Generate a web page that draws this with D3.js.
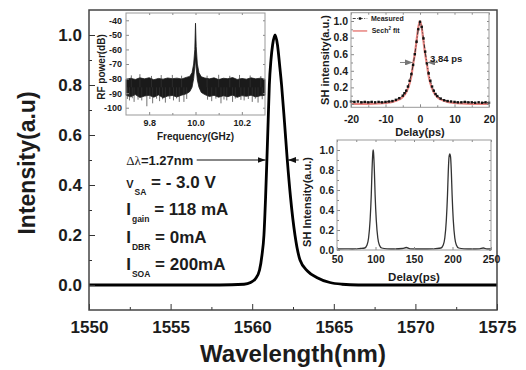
<!DOCTYPE html>
<html>
<head>
<meta charset="utf-8">
<script src="https://cdn.jsdelivr.net/npm/d3@7"></script>
<style>
  body { margin: 0; background: #fff; }
  svg text { font-family: Arial, "Liberation Sans", sans-serif; font-weight: bold; fill: #1c1c1c; }
</style>
</head>
<body>
<svg id="chart" width="526" height="370"></svg>
<script>
// main optical spectrum
const wavelength = [1550, 1558, 1559.5, 1559.9, 1560.2, 1560.45, 1560.6, 1560.72, 1560.82, 1560.9, 1560.98,
  1561.05, 1561.15, 1561.25, 1561.4, 1561.55, 1561.68, 1561.8, 1561.98, 1562.15, 1562.35, 1562.62,
  1562.93, 1563.4, 1563.95, 1564.76, 1565.5, 1566.5, 1575];
const intensity = [0, 0, 0.003, 0.01, 0.025, 0.06, 0.12, 0.2, 0.35, 0.5, 0.66,
  0.8, 0.9, 0.96, 1.0, 0.96, 0.88, 0.8, 0.65, 0.5, 0.35, 0.2,
  0.1, 0.055, 0.03, 0.01, 0.003, 0, 0];
const wlTicks = [1550, 1555, 1560, 1565, 1570, 1575];
const wlMinor = [1552.5, 1557.5, 1562.5, 1567.5, 1572.5];
const intTicks = [0, 0.2, 0.4, 0.6, 0.8, 1.0];
const intMinor = [0.1, 0.3, 0.5, 0.7, 0.9];

// RF spectrum inset (band envelope + spikes)
const rfFreq = [9.70, 9.72, 9.74, 9.76, 9.78, 9.80, 9.82, 9.84, 9.86, 9.88, 9.90, 9.92, 9.94, 9.96,
  9.975, 9.985, 9.992, 9.997, 10.0, 10.003, 10.008, 10.015, 10.025, 10.04, 10.06, 10.08, 10.10,
  10.12, 10.14, 10.16, 10.18, 10.20, 10.22, 10.24, 10.26, 10.28, 10.30];
const rfUpper = [-80.5, -79.8, -80.6, -79.5, -80.2, -79.4, -80.8, -79.9, -80.4, -79.6, -80.1, -79.7, -80.3, -79.2,
  -78.5, -76, -70, -60, -42, -58, -70, -76, -78.8, -79.6, -80.2, -79.5, -80.7,
  -79.8, -80.1, -79.3, -80.6, -79.9, -80.4, -79.5, -80.2, -79.7, -80.5];
const rfLower = [-91.5, -92.5, -91, -93, -92, -91.5, -92.8, -91.2, -93.2, -92, -91.6, -92.6, -91.4, -90.5,
  -89, -86, -80, -72, -66, -73, -81, -86, -89.5, -91, -92.3, -91.5, -92.8,
  -91.8, -92.4, -91.3, -92.9, -91.7, -92.2, -91.4, -92.6, -91.8, -91.5];
const rfSpikeFreq = [9.706, 9.715, 9.727, 9.735, 9.752, 9.768, 9.79, 9.803, 9.815, 9.832, 9.845, 9.858, 9.87, 9.889,
  9.905, 9.918, 9.93, 9.95, 9.962, 10.052, 10.07, 10.088, 10.11, 10.123, 10.135, 10.16, 10.172, 10.196,
  10.21, 10.228, 10.245, 10.258, 10.27, 10.288,
  9.723, 9.76, 9.81, 9.852, 9.9, 9.94, 10.05, 10.1, 10.148, 10.19, 10.236, 10.282];
const rfSpikeDb = [-94, -95, -93.5, -96, -94.5, -95, -99, -94, -97, -93.8, -95.5, -94.2, -96.5, -94,
  -95, -93.6, -96, -96, -94, -94.5, -95.5, -93.8, -97, -94.4, -95, -96, -93.7, -94.6,
  -95, -94, -96, -93.8, -96.5, -94.2,
  -77.8, -77, -78.2, -77.6, -77.5, -78, -78, -77.4, -78.1, -77.5, -77.9, -78.3];
const rfFreqTicks = [9.8, 10.0, 10.2];
const rfFreqMinor = [9.9, 10.1];
const rfDbTicks = [-40, -50, -60, -70, -80, -90, -100];

// autocorrelation inset
const acDelay = [-20, -19, -18, -17, -16, -15, -14, -13, -12, -11, -10, -9, -8, -7, -6, -5, -4.5, -4, -3.5, -3,
  -2.5, -2, -1.5, -1, -0.5, 0, 0.5, 1, 1.5, 2, 2.5, 3, 3.5, 4, 4.5, 5, 6, 7, 8, 9, 10,
  11, 12, 13, 14, 15, 16, 17, 18, 19, 20];
const acMeasured = [0.03, 0.025, 0.03, 0.02, 0.025, 0.02, 0.025, 0.02, 0.025, 0.02, 0.025, 0.03, 0.035, 0.05, 0.07, 0.1, 0.13, 0.16, 0.21, 0.28,
  0.36, 0.47, 0.6, 0.75, 0.9, 0.99, 0.93, 0.79, 0.63, 0.49, 0.37, 0.28, 0.21, 0.16, 0.12, 0.095, 0.065, 0.045, 0.035, 0.03, 0.025,
  0.02, 0.02, 0.025, 0.02, 0.02, 0.015, 0.02, 0.015, 0.02, 0.015];
const fitDelay = [-20, -15, -12, -10, -8, -6, -5, -4, -3, -2.5, -2, -1.5, -1, -0.5, 0, 0.5, 1, 1.5, 2, 2.5, 3, 4, 5, 6, 8, 10, 12, 15, 20];
const acFit = [0, 0.002, 0.006, 0.012, 0.025, 0.055, 0.085, 0.14, 0.25, 0.34, 0.48, 0.6, 0.76, 0.92, 1.0, 0.92, 0.76, 0.6, 0.48, 0.34, 0.25, 0.14, 0.085, 0.055, 0.025, 0.012, 0.006, 0.002, 0];
const acDelayTicks = [-20, -10, 0, 10, 20];
const acDelayMinor = [-15, -5, 5, 15];
const shTicks = [0, 0.2, 0.4, 0.6, 0.8, 1.0];
const shMinor = [0.1, 0.3, 0.5, 0.7, 0.9];

// pulse train inset
const trainDelay = [50, 60, 70, 80, 86, 89, 91, 93, 94.5, 95.5, 96.5, 97, 97.5, 98.5, 99.5, 101, 103, 105, 108,
  115, 125, 135, 140, 145, 160, 175, 185, 188, 190, 192, 193.5, 194.5, 195.5, 196.5, 197.5, 198.5, 199.5,
  201, 203, 205, 208, 215, 225, 235, 240, 245, 250];
const trainSH = [0.01, 0.012, 0.01, 0.015, 0.02, 0.05, 0.12, 0.3, 0.55, 0.8, 0.97, 1.0, 0.97, 0.8, 0.55, 0.3, 0.12, 0.05, 0.02,
  0.012, 0.01, 0.015, 0.025, 0.012, 0.01, 0.012, 0.02, 0.05, 0.12, 0.3, 0.55, 0.78, 0.93, 0.96, 0.93, 0.78, 0.55,
  0.3, 0.12, 0.05, 0.02, 0.012, 0.01, 0.012, 0.02, 0.01, 0.01];
const trainTicks = [50, 100, 150, 200, 250];
const trainMinor = [75, 125, 175, 225];

const svg = d3.select('#chart');

const defs = svg.append('defs');
function arrowMarker(id, color) {
  defs.append('marker')
    .attr('id', id)
    .attr('markerUnits', 'userSpaceOnUse')
    .attr('viewBox', '0 0 8 6')
    .attr('refX', 8).attr('refY', 3)
    .attr('markerWidth', 8).attr('markerHeight', 6)
    .attr('orient', 'auto')
    .append('path').attr('d', 'M0,0L8,3L0,6Z').attr('fill', color);
}
arrowMarker('arrow', '#111');
arrowMarker('arrowGrey', '#777');

// draws inward ticks (optionally mirrored) and the frame of a panel
function drawTicks(g, xs, ys, o) {
  const [x0, x1] = xs.range();
  const [y0, y1] = ys.range();
  const fs = o.fontSize;

  g.append('g').attr('transform', `translate(0,${y0})`)
    .call(d3.axisBottom(xs).tickValues(o.xt).tickFormat(o.xf).tickSize(-o.tick).tickPadding(o.xpad));
  g.append('g').attr('transform', `translate(${x0},0)`)
    .call(d3.axisLeft(ys).tickValues(o.yt).tickFormat(o.yf).tickSize(-o.tick).tickPadding(o.ypad));
  g.append('g').attr('transform', `translate(0,${y0})`)
    .call(d3.axisBottom(xs).tickValues(o.xm).tickFormat('').tickSize(-o.minor));
  g.append('g').attr('transform', `translate(${x0},0)`)
    .call(d3.axisLeft(ys).tickValues(o.ym).tickFormat('').tickSize(-o.minor));
  if (o.mirror) {
    g.append('g').attr('transform', `translate(0,${y1})`)
      .call(d3.axisTop(xs).tickValues(o.xt.concat(o.xm)).tickFormat('').tickSize(-o.minor));
    g.append('g').attr('transform', `translate(${x1},0)`)
      .call(d3.axisRight(ys).tickValues(o.yt.concat(o.ym)).tickFormat('').tickSize(-o.minor));
  }
  g.selectAll('.domain').remove();
  g.selectAll('.tick line').attr('stroke', o.tickColor).attr('stroke-width', 1);
  g.selectAll('.tick text').attr('font-size', fs).attr('fill', '#1c1c1c')
    .attr('font-family', 'Arial, "Liberation Sans", sans-serif').attr('font-weight', 'bold');
  g.append('rect')
    .attr('x', x0).attr('y', y1)
    .attr('width', x1 - x0).attr('height', y0 - y1)
    .attr('fill', 'none').attr('stroke', o.frameColor).attr('stroke-width', o.frameWidth);
}

// ---------- main plot ----------
const x = d3.scaleLinear().domain([1550, 1575]).range([89, 497]);
const y = d3.scaleLinear().domain([-0.1, 1.1]).range([310, 10]);
const main = svg.append('g');

const spectrum = wavelength.map((w, i) => [w, intensity[i]]);
main.append('path')
  .datum(spectrum)
  .attr('fill', 'none')
  .attr('stroke', '#000')
  .attr('stroke-width', 2.8)
  .attr('stroke-linejoin', 'round')
  .attr('d', d3.line().x(d => x(d[0])).y(d => y(d[1])).curve(d3.curveMonotoneX));

drawTicks(main, x, y, {
  xt: wlTicks, xm: wlMinor, yt: intTicks, ym: intMinor,
  xf: d => d.toFixed(0), yf: d => d.toFixed(1),
  tick: 6, minor: 3, xpad: 11, ypad: 7, fontSize: 17,
  tickColor: '#333', frameColor: '#444', frameWidth: 1.5, mirror: false
});

main.append('text')
  .attr('x', (x.range()[0] + x.range()[1]) / 2)
  .attr('y', 362)
  .attr('text-anchor', 'middle')
  .attr('font-size', 24)
  .text('Wavelength(nm)');
main.append('text')
  .attr('transform', `translate(35,${y(0.5) + 3}) rotate(-90)`)
  .attr('text-anchor', 'middle')
  .attr('font-size', 23)
  .text('Intensity(a.u)');

// FWHM arrows and operating conditions
main.append('line')
  .attr('x1', x(1556.6)).attr('x2', x(1560.82))
  .attr('y1', y(0.5)).attr('y2', y(0.5))
  .attr('stroke', '#111').attr('stroke-width', 1)
  .attr('marker-end', 'url(#arrow)');
main.append('line')
  .attr('x1', x(1562.85)).attr('x2', x(1562.2))
  .attr('y1', y(0.5)).attr('y2', y(0.5))
  .attr('stroke', '#111').attr('stroke-width', 1)
  .attr('marker-end', 'url(#arrow)');

const tx = x(1552.28);
const dl = main.append('text').attr('x', tx).attr('y', y(0.5) + 5).attr('font-size', 13);
dl.append('tspan').attr('font-family', '"Liberation Serif", "DejaVu Serif", serif').attr('font-weight', 'normal').text('Δλ');
dl.append('tspan').text('=1.27nm');

const conditions = [
  { main: 'V', sub: 'SA', rest: ' = - 3.0 V', base: 187.5, mainSize: 11 },
  { main: 'I', sub: 'gain', rest: ' = 118 mA', base: 215, mainSize: 17 },
  { main: 'I', sub: 'DBR', rest: ' = 0mA', base: 242.5, mainSize: 17 },
  { main: 'I', sub: 'SOA', rest: ' = 200mA', base: 270, mainSize: 17 }
];
conditions.forEach(c => {
  const t = main.append('text').attr('x', tx).attr('y', c.base).attr('font-size', 17);
  t.append('tspan').attr('font-size', c.mainSize).text(c.main);
  t.append('tspan').attr('font-size', 8.5).attr('dx', 1).attr('dy', 7).text(c.sub);
  t.append('tspan').attr('dy', -7).text(c.rest);
});

// ---------- RF spectrum inset ----------
const rfx = d3.scaleLinear().domain([9.7, 10.3]).range([126, 265]);
const rfy = d3.scaleLinear().domain([-105, -35]).range([115, 13]);
const rf = svg.append('g');
rf.append('rect').attr('x', 126).attr('y', 13).attr('width', 139).attr('height', 102).attr('fill', '#fff');

const rfBand = rfFreq.map((f, i) => ({ f, hi: rfUpper[i], lo: rfLower[i] }));
rf.append('path')
  .datum(rfBand)
  .attr('fill', '#1a1a1a')
  .attr('stroke', '#1a1a1a')
  .attr('stroke-width', 0.8)
  .attr('d', d3.area().x(d => rfx(d.f)).y0(d => rfy(d.lo)).y1(d => rfy(d.hi)));
rf.selectAll('line.spike')
  .data(rfSpikeFreq.map((f, i) => [f, rfSpikeDb[i]]))
  .join('line')
  .attr('class', 'spike')
  .attr('x1', d => rfx(d[0])).attr('x2', d => rfx(d[0]))
  .attr('y1', rfy(-86)).attr('y2', d => rfy(d[1]))
  .attr('stroke', '#333').attr('stroke-width', 0.7);

drawTicks(rf, rfx, rfy, {
  xt: rfFreqTicks, xm: rfFreqMinor, yt: rfDbTicks, ym: [],
  xf: d => d.toFixed(1), yf: d => d.toFixed(0),
  tick: 3, minor: 2, xpad: 5, ypad: 4, fontSize: 9,
  tickColor: '#888', frameColor: '#999', frameWidth: 1, mirror: true
});
rf.append('text')
  .attr('x', rfx(10.0)).attr('y', 140)
  .attr('text-anchor', 'middle').attr('font-size', 10)
  .text('Frequency(GHz)');
rf.append('text')
  .attr('transform', `translate(105,${rfy(-70) + 3}) rotate(-90)`)
  .attr('text-anchor', 'middle').attr('font-size', 10)
  .text('RF power(dB)');

// ---------- autocorrelation inset ----------
const acx = d3.scaleLinear().domain([-20, 20]).range([351, 489]);
const acy = d3.scaleLinear().domain([-0.04, 1.1]).range([107.3, 12.7]);
const ac = svg.append('g');
ac.append('rect').attr('x', 351).attr('y', 12.7).attr('width', 138).attr('height', 94.6).attr('fill', '#fff');

ac.append('path')
  .datum(fitDelay.map((d, i) => [d, acFit[i]]))
  .attr('fill', 'none').attr('stroke', '#e8837f').attr('stroke-width', 2.2)
  .attr('d', d3.line().x(d => acx(d[0])).y(d => acy(d[1])).curve(d3.curveMonotoneX));
const acPts = acDelay.map((d, i) => [d, acMeasured[i]]);
ac.append('path')
  .datum(acPts)
  .attr('fill', 'none').attr('stroke', '#333').attr('stroke-width', 1)
  .attr('stroke-dasharray', '4,2,1,2')
  .attr('d', d3.line().x(d => acx(d[0])).y(d => acy(d[1])));
ac.selectAll('rect.pt')
  .data(acPts)
  .join('rect')
  .attr('class', 'pt')
  .attr('x', d => acx(d[0]) - 1.2).attr('y', d => acy(d[1]) - 1.2)
  .attr('width', 2.4).attr('height', 2.4)
  .attr('fill', '#111');

drawTicks(ac, acx, acy, {
  xt: acDelayTicks, xm: acDelayMinor, yt: shTicks, ym: shMinor,
  xf: d => d.toFixed(0), yf: d => d.toFixed(1),
  tick: 3, minor: 2, xpad: 8, ypad: 3, fontSize: 10.5,
  tickColor: '#888', frameColor: '#999', frameWidth: 1, mirror: true
});

// legend
ac.append('line')
  .attr('x1', acx(-19.5)).attr('x2', acx(-15.3)).attr('y1', acy(1.03)).attr('y2', acy(1.03))
  .attr('stroke', '#444').attr('stroke-width', 1).attr('stroke-dasharray', '3,1.5,1,1.5');
ac.append('rect')
  .attr('x', acx(-17.4) - 1.2).attr('y', acy(1.03) - 1.2).attr('width', 2.4).attr('height', 2.4).attr('fill', '#111');
ac.append('text').attr('x', acx(-14.2)).attr('y', acy(1.03) + 2.5).attr('font-size', 7).text('Measured');
ac.append('line')
  .attr('x1', acx(-19.5)).attr('x2', acx(-15.3)).attr('y1', acy(0.88)).attr('y2', acy(0.88))
  .attr('stroke', '#e8837f').attr('stroke-width', 1.5);
const fitLabel = ac.append('text').attr('x', acx(-14.0)).attr('y', acy(0.88) + 2.5).attr('font-size', 7);
fitLabel.append('tspan').text('Sech');
fitLabel.append('tspan').attr('font-size', 4.5).attr('dy', -3).text('2');
fitLabel.append('tspan').attr('dy', 3).text(' fit');

// FWHM annotation
ac.append('line')
  .attr('x1', acx(-5.8)).attr('x2', acx(-2.1)).attr('y1', acy(0.5)).attr('y2', acy(0.5))
  .attr('stroke', '#777').attr('stroke-width', 0.9).attr('marker-end', 'url(#arrowGrey)');
ac.append('line')
  .attr('x1', acx(5.2)).attr('x2', acx(2.1)).attr('y1', acy(0.5)).attr('y2', acy(0.5))
  .attr('stroke', '#777').attr('stroke-width', 0.9).attr('marker-end', 'url(#arrowGrey)');
ac.append('text').attr('x', acx(2.9)).attr('y', acy(0.5) - 0.5).attr('font-size', 9.5).text('3.84 ps');

ac.append('text')
  .attr('x', acx(0)).attr('y', 136)
  .attr('text-anchor', 'middle').attr('font-size', 11)
  .text('Delay(ps)');
ac.append('text')
  .attr('transform', `translate(329,${(acy.range()[0] + acy.range()[1]) / 2}) rotate(-90)`)
  .attr('text-anchor', 'middle').attr('font-size', 11)
  .text('SH intensity(a.u.)');

// ---------- pulse train inset ----------
const ptx = d3.scaleLinear().domain([50, 250]).range([337, 491]);
const pty = d3.scaleLinear().domain([0, 1.1]).range([250, 140]);
const pt = svg.append('g');
pt.append('rect').attr('x', 337).attr('y', 140).attr('width', 154).attr('height', 110).attr('fill', '#fff');
pt.append('path')
  .datum(trainDelay.map((d, i) => [d, trainSH[i]]))
  .attr('fill', 'none').attr('stroke', '#333').attr('stroke-width', 1.3)
  .attr('d', d3.line().x(d => ptx(d[0])).y(d => pty(d[1])).curve(d3.curveMonotoneX));

drawTicks(pt, ptx, pty, {
  xt: trainTicks, xm: trainMinor, yt: shTicks, ym: shMinor,
  xf: d => d.toFixed(0), yf: d => d.toFixed(1),
  tick: 3, minor: 2, xpad: 6, ypad: 3, fontSize: 10.5,
  tickColor: '#888', frameColor: '#999', frameWidth: 1, mirror: true
});
pt.append('text')
  .attr('x', ptx(150)).attr('y', 281)
  .attr('text-anchor', 'middle').attr('font-size', 11.5)
  .text('Delay(ps)');
pt.append('text')
  .attr('transform', `translate(311,${pty(0.5) + 2}) rotate(-90)`)
  .attr('text-anchor', 'middle').attr('font-size', 11)
  .text('SH Intensity(a.u.)');
</script>
</body>
</html>
